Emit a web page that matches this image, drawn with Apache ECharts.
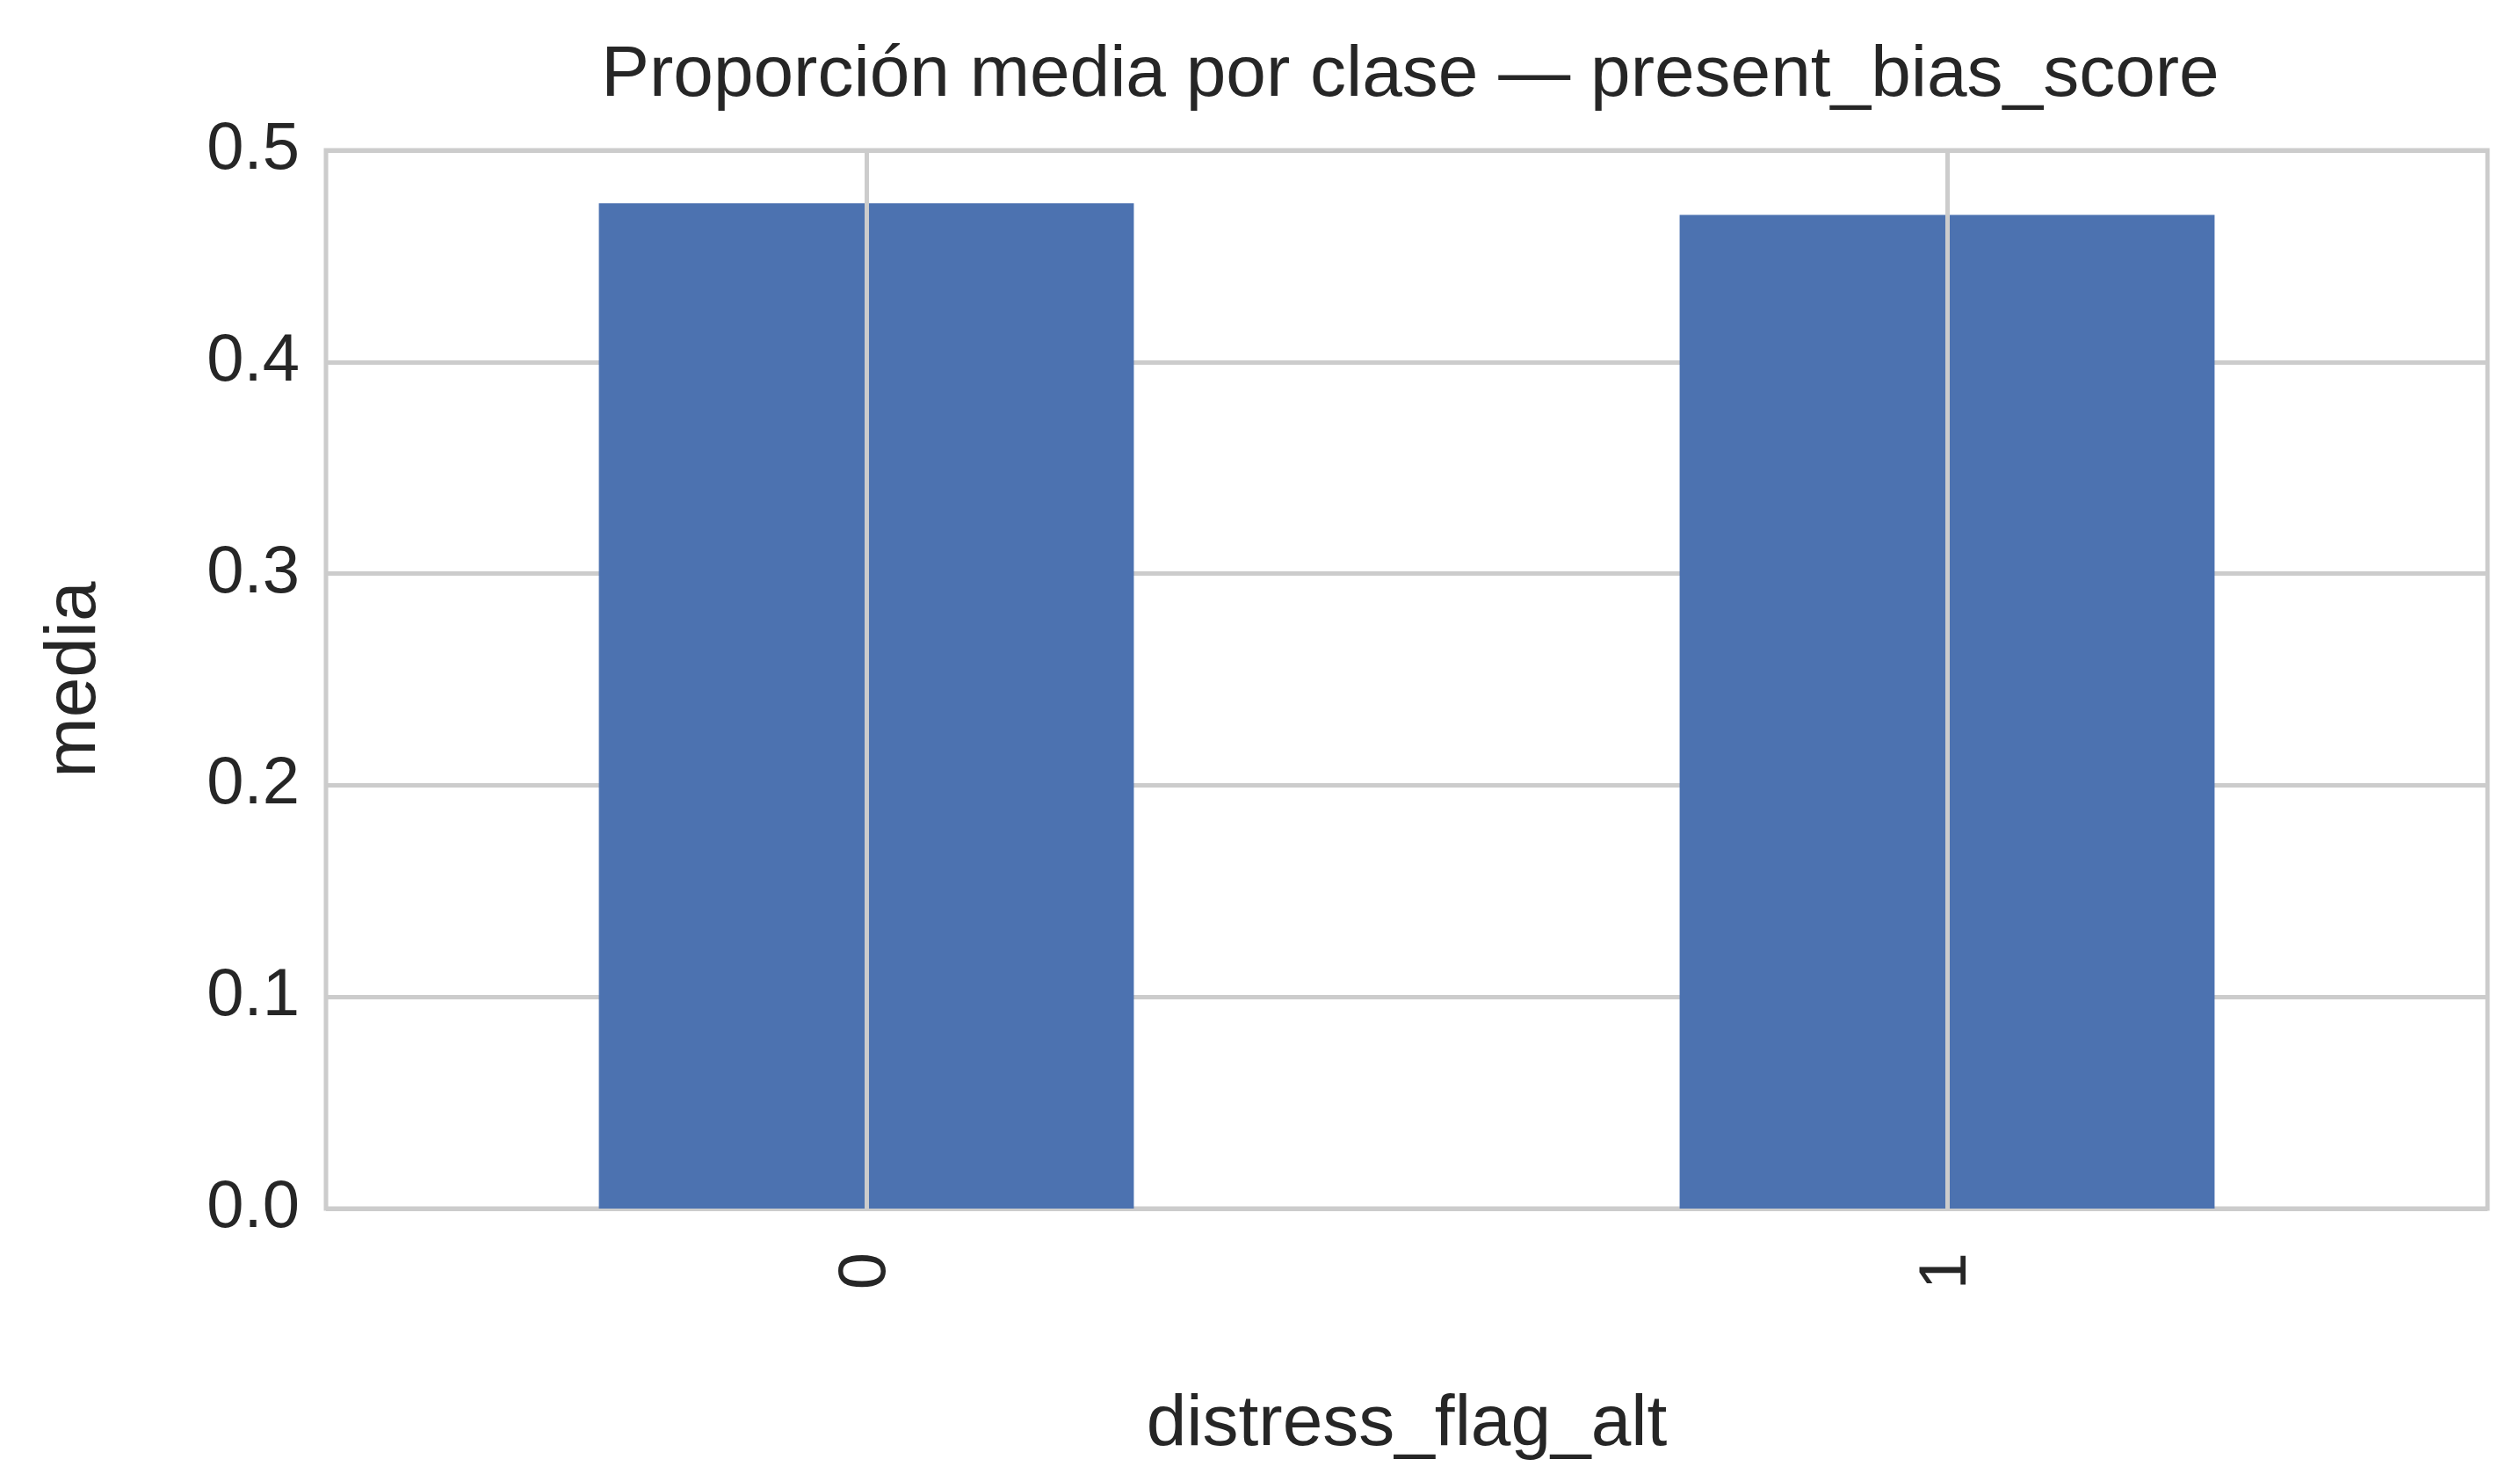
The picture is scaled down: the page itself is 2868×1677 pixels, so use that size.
<!DOCTYPE html>
<html><head><meta charset="utf-8">
<script src="https://cdn.jsdelivr.net/npm/echarts@6/dist/echarts.min.js"></script>
<style>html,body{margin:0;padding:0;background:#fff}#c{width:2868px;height:1677px}</style>
</head><body><div id="c"></div>
<script>
const categories = ['0', '1'];
const values = [0.475, 0.4695];
const yTicks = [0, 0.1, 0.2, 0.3, 0.4, 0.5];

const F = 'Liberation Sans, Arial, sans-serif';
const chart = echarts.init(document.getElementById('c'));
chart.setOption({
  animation: false,
  backgroundColor: '#ffffff',
  title: {text: 'Proporción media por clase — present_bias_score', left: 1600, top: 40, textAlign: 'center',
    textStyle: {fontFamily: F, fontSize: 82, fontWeight: 'normal', color: '#262626'}},
  grid: {left: 371, right: 37, top: 171, bottom: 302, show: true, borderColor: '#cccccc', borderWidth: 5, backgroundColor: '#fff'},
  xAxis: {type: 'category', data: categories, name: 'distress_flag_alt', nameLocation: 'middle', nameGap: 205,
    nameTextStyle: {fontFamily: F, fontSize: 82, color: '#262626'},
    axisLine: {show: false}, axisTick: {show: false},
    axisLabel: {rotate: 90, fontFamily: F, fontSize: 76, color: '#262626', margin: 50},
    splitLine: {show: false}},
  yAxis: {type: 'value', min: 0, max: 0.5, interval: 0.1, name: 'media', nameLocation: 'middle', nameGap: 245,
    nameTextStyle: {fontFamily: F, fontSize: 82, color: '#262626'},
    axisLine: {show: false}, axisTick: {show: false},
    axisLabel: {fontFamily: F, fontSize: 76, color: '#262626', margin: 30,
      formatter: v => { const t = yTicks.find(x => Math.abs(x - v) < 1e-9); return (t !== undefined ? t : v).toFixed(1); }},
    splitLine: {show: true, lineStyle: {color: '#cccccc', width: 5}}},
  series: [
    {type: 'line', data: [], z: 1, silent: true,
      markLine: {symbol: 'none', silent: true, label: {show: false},
        lineStyle: {color: '#cccccc', width: 5, type: 'solid'},
        data: categories.map(c => ({xAxis: c}))}},
    {type: 'bar', data: values, barWidth: '49.5%', z: 3,
      itemStyle: {color: '#4c72b0'}}
  ]
});
</script></body></html>
